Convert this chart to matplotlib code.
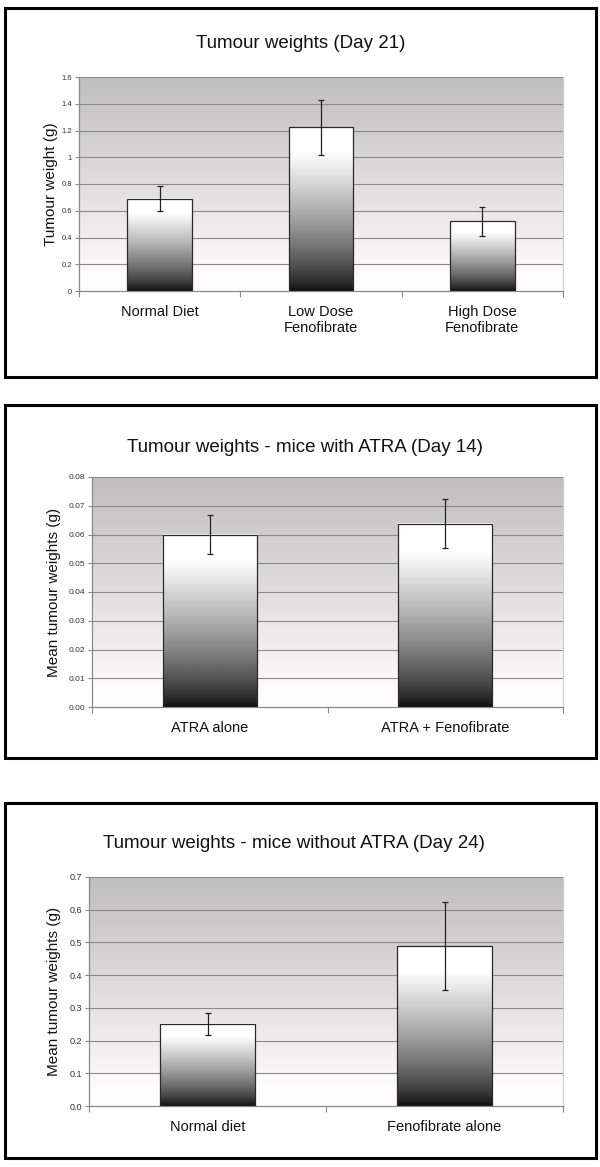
import numpy as np
import matplotlib
matplotlib.use('Agg')
import matplotlib.pyplot as plt
from matplotlib.patches import Rectangle

plt.rcParams['font.family'] = ['Liberation Sans', 'DejaVu Sans']

# Panel 1: Day 21
p1_title = 'Tumour weights (Day 21)'
p1_ylabel = 'Tumour weight (g)'
p1_labels = ['Normal Diet', 'Low Dose\nFenofibrate', 'High Dose\nFenofibrate']
p1_means = [0.69, 1.225, 0.52]
p1_err = [0.092, 0.205, 0.108]
p1_ticks = [0, 0.2, 0.4, 0.6, 0.8, 1.0, 1.2, 1.4, 1.6]
p1_ticklabels = ['0', '0.2', '0.4', '0.6', '0.8', '1', '1.2', '1.4', '1.6']

# Panel 2: with ATRA (Day 14)
p2_title = 'Tumour weights - mice with ATRA (Day 14)'
p2_ylabel = 'Mean tumour weights (g)'
p2_labels = ['ATRA alone', 'ATRA + Fenofibrate']
p2_means = [0.0600, 0.0638]
p2_err = [0.0067, 0.0086]
p2_ticks = [0.00, 0.01, 0.02, 0.03, 0.04, 0.05, 0.06, 0.07, 0.08]
p2_ticklabels = ['0.00', '0.01', '0.02', '0.03', '0.04', '0.05', '0.06', '0.07', '0.08']

# Panel 3: without ATRA (Day 24)
p3_title = 'Tumour weights - mice without ATRA (Day 24)'
p3_ylabel = 'Mean tumour weights (g)'
p3_labels = ['Normal diet', 'Fenofibrate alone']
p3_means = [0.251, 0.489]
p3_err = [0.034, 0.135]
p3_ticks = [0.0, 0.1, 0.2, 0.3, 0.4, 0.5, 0.6, 0.7]
p3_ticklabels = ['0.0', '0.1', '0.2', '0.3', '0.4', '0.5', '0.6', '0.7']

W, H = 600, 1167
fig = plt.figure(figsize=(W / 100, H / 100), dpi=100)
fig.patch.set_facecolor('white')


def px_rect(x0, y0, x1, y1):
    return [x0 / W, 1 - y1 / H, (x1 - x0) / W, (y1 - y0) / H]


def bar_gradient():
    t = np.linspace(0, 1, 256)
    g = 0.05 + 0.95 * np.clip(t / 0.85, 0, 1) ** 0.75
    return g[:, None]


def bg_gradient():
    # plot area fill: white near the bottom, mid grey at the top
    t = np.linspace(0, 1, 256)
    g = 1.0 - 0.245 * np.clip((t - 0.08) / 0.92, 0, 1) ** 0.9
    rgb = np.stack([g * 0.997, g * 0.99, g * 0.99], axis=-1)
    return rgb[:, None, :]


def panel(box, axbox, title, title_xy, ylabel, ylab_x, labels, means, errs,
          ticks, ticklabels, tick_fs):
    x0, y0, x1, y1 = box
    fig.patches.append(Rectangle((x0 / W, 1 - y1 / H), (x1 - x0) / W, (y1 - y0) / H,
                                 transform=fig.transFigure, fill=False,
                                 edgecolor='black', linewidth=2.2))
    fig.text(title_xy[0] / W, 1 - title_xy[1] / H, title, ha='center', va='center',
             fontsize=13.5, color='#111111')
    ax = fig.add_axes(px_rect(*axbox))
    n = len(labels)
    ymax = ticks[-1]
    ax.imshow(bg_gradient(), extent=(-0.5, n - 0.5, 0, ymax), origin='lower',
              aspect='auto', zorder=0, interpolation='bilinear')
    for y in ticks[1:]:
        ax.axhline(y, color='#8a8a8a', linewidth=0.8, zorder=1)
    width = 0.4
    for i, (m, e) in enumerate(zip(means, errs)):
        ax.imshow(bar_gradient(), cmap='gray', vmin=0, vmax=1,
                  extent=(i - width / 2, i + width / 2, 0, m), origin='lower',
                  aspect='auto', zorder=2, interpolation='bilinear')
        ax.add_patch(Rectangle((i - width / 2, 0), width, m, fill=False,
                               edgecolor='#2a2a2a', linewidth=0.9, zorder=3))
        ax.errorbar(i, m, yerr=e, fmt='none', ecolor='#222222', elinewidth=0.9,
                    capsize=2.2, capthick=0.9, zorder=4)
    ax.set_xlim(-0.5, n - 0.5)
    ax.set_ylim(0, ymax)
    ax.set_yticks(ticks)
    ax.set_yticklabels(ticklabels, fontsize=tick_fs, color='#333333')
    ax.set_xticks(range(n))
    ax.set_xticklabels(labels, fontsize=10.5, color='#111111', linespacing=1.15)
    ax.set_xticks(np.arange(-0.5, n, 1.0), minor=True)
    ax.tick_params(axis='x', which='major', length=0, pad=10)
    ax.tick_params(axis='x', which='minor', length=4, color='#888888', width=0.8)
    ax.tick_params(axis='y', length=3, color='#888888', width=0.8, pad=2)
    for s in ['left', 'bottom']:
        ax.spines[s].set_color('#888888')
        ax.spines[s].set_linewidth(0.9)
    ax.spines['right'].set_color('#cccccc')
    ax.spines['top'].set_visible(False)
    fig.text(ylab_x / W, 1 - ((axbox[1] + axbox[3]) / 2) / H, ylabel, rotation=90,
             ha='center', va='center', fontsize=11, color='#111111')
    return ax


panel((5, 8, 596, 377), (79, 77, 563, 291), p1_title, (301, 43), p1_ylabel, 51,
      p1_labels, p1_means, p1_err, p1_ticks, p1_ticklabels, 5.5)
panel((5, 405, 596, 758), (92, 477, 563, 707), p2_title, (305, 447), p2_ylabel, 54,
      p2_labels, p2_means, p2_err, p2_ticks, p2_ticklabels, 6)
panel((5, 803, 596, 1158), (89, 877, 563, 1106), p3_title, (294, 843), p3_ylabel, 54,
      p3_labels, p3_means, p3_err, p3_ticks, p3_ticklabels, 6.5)

fig.savefig('out.png', dpi=100)
